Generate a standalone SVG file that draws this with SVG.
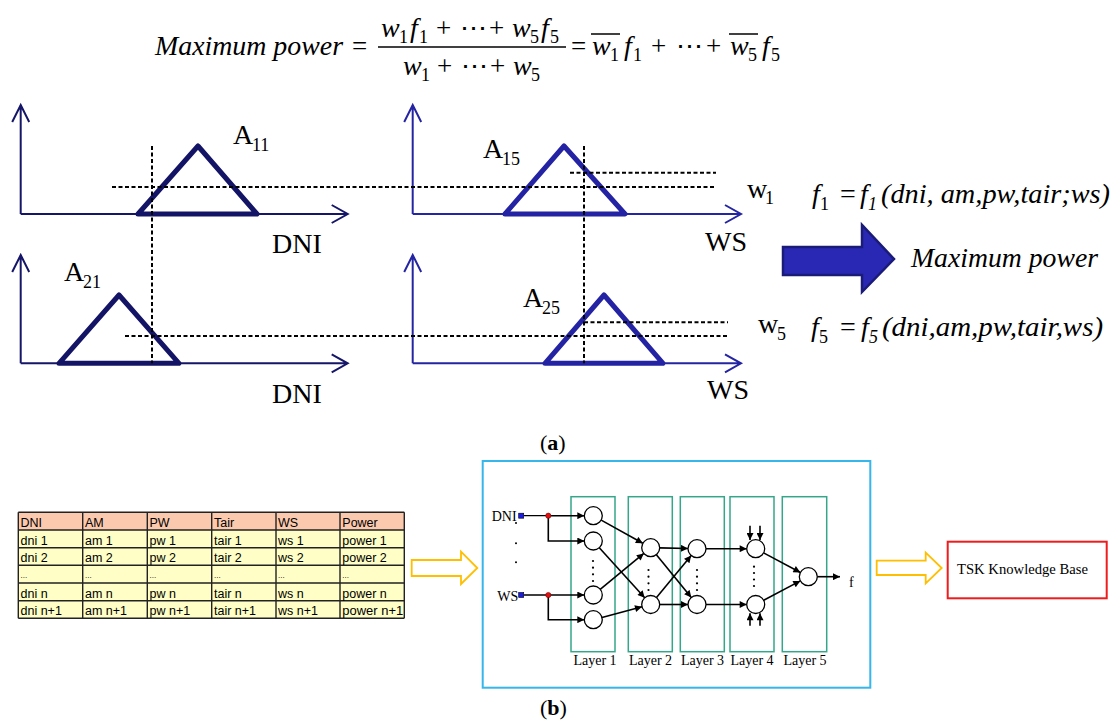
<svg xmlns="http://www.w3.org/2000/svg" width="1118" height="722" viewBox="0 0 1118 722">
<style>
.fm{font-family:"Liberation Serif",serif;font-style:italic;font-size:28px;fill:#000}
.fr{font-family:"Liberation Serif",serif;font-size:27px;fill:#000}
.fs{font-family:"Liberation Serif",serif;font-size:18px;fill:#000}
.tm{font-family:"Liberation Serif",serif;font-size:28px;fill:#000}
.ts{font-family:"Liberation Serif",serif;font-size:18px;fill:#000}
.ti{font-family:"Liberation Serif",serif;font-style:italic;font-size:28px;fill:#000}
.tis{font-family:"Liberation Serif",serif;font-style:italic;font-size:18px;fill:#000}
.axL{stroke:#161668;stroke-width:2;fill:none}
.axR{stroke:#2525a3;stroke-width:2;fill:none}
.triL{stroke:#141466;stroke-width:5;fill:none;stroke-linejoin:round}
.triR{stroke:#2323a3;stroke-width:5;fill:none;stroke-linejoin:round}
.dash{stroke:#000;stroke-width:2;stroke-dasharray:4 2.5;fill:none}
.cap{font-family:"Liberation Serif",serif;font-size:22px;fill:#000}
.tb{font-family:"Liberation Sans",sans-serif;font-size:12.5px;fill:#000}
.grid{stroke:#222;stroke-width:1.4;fill:none}
.lay{stroke:#35a689;stroke-width:1.5;fill:none}
.node{stroke:#000;stroke-width:1.3;fill:#fff}
.edge{stroke:#000;stroke-width:1.6;fill:none;marker-end:url(#ah)}
.line{stroke:#000;stroke-width:1.3;fill:none}
.nt{font-family:"Liberation Serif",serif;font-size:14px;fill:#000}
.yarr{stroke:#ffbf00;stroke-width:1.8;fill:#fff}
</style>
<defs>
<marker id="ah" viewBox="0 0 10 10" refX="10" refY="5" markerWidth="8" markerHeight="7" markerUnits="userSpaceOnUse" orient="auto">
<path d="M0,0 L10,5 L0,10 Z" fill="#000"/>
</marker>
</defs>

<g id="formula">
<text class="fm" x="155" y="55" textLength="188" lengthAdjust="spacingAndGlyphs">Maximum power</text>
<text class="fr" x="352" y="55">=</text>
<text class="fm" x="381" y="37">w</text><text class="fs" x="399" y="43">1</text>
<text class="fm" x="410" y="37">f</text><text class="fs" x="419" y="43">1</text>
<text class="fr" x="436" y="37">+</text><text class="fr" x="460" y="37">⋯</text><text class="fr" x="489" y="37">+</text>
<text class="fm" x="512" y="37">w</text><text class="fs" x="530" y="43">5</text>
<text class="fm" x="541" y="37">f</text><text class="fs" x="550" y="43">5</text>
<line x1="378" y1="47" x2="566" y2="47" stroke="#000" stroke-width="1.5"/>
<text class="fm" x="403" y="75">w</text><text class="fs" x="421" y="81">1</text>
<text class="fr" x="437" y="75">+</text><text class="fr" x="461" y="75">⋯</text><text class="fr" x="490" y="75">+</text>
<text class="fm" x="513" y="75">w</text><text class="fs" x="531" y="81">5</text>
<text class="fr" x="571" y="55">=</text>
<text class="fm" x="592" y="55">w</text><text class="fs" x="610" y="61">1</text>
<line x1="591" y1="34" x2="620" y2="34" stroke="#000" stroke-width="1.5"/>
<text class="fm" x="624" y="55">f</text><text class="fs" x="633" y="61">1</text>
<text class="fr" x="651" y="55">+</text><text class="fr" x="676" y="55">⋯</text><text class="fr" x="706" y="55">+</text>
<text class="fm" x="730" y="55">w</text><text class="fs" x="748" y="61">5</text>
<line x1="729" y1="34" x2="758" y2="34" stroke="#000" stroke-width="1.5"/>
<text class="fm" x="762" y="55">f</text><text class="fs" x="771" y="61">5</text>
</g>

<g id="chart-a11">
<path class="axL" d="M20.7,214 V105 M12.2,122 L20.7,105 L29.2,122 M20.7,214 H347.7 M331.7,205 L347.7,214 L331.7,223"/>
<path class="triL" d="M138,214 L198,146 L257,214 Z"/>
<text class="tm" x="233" y="144" font-size="26">A</text><text class="ts" x="252" y="151">11</text>
<text class="tm" x="272" y="253">DNI</text>
</g>
<g id="chart-a15">
<path class="axR" d="M412.7,214 V105 M404.2,122 L412.7,105 L421.2,122 M412.7,214 H741 M725,205 L741,214 L725,223"/>
<path class="triR" d="M505,214 L564,146 L625,214 Z"/>
<text class="tm" x="483" y="158" font-size="26">A</text><text class="ts" x="502" y="165">15</text>
<text class="tm" x="705" y="251">WS</text>
</g>
<g id="chart-a21">
<path class="axL" d="M20.7,363.3 V255 M12.2,272 L20.7,255 L29.2,272 M20.7,363.3 H347.7 M331.7,354.3 L347.7,363.3 L331.7,372.3"/>
<path class="triL" d="M59,363.3 L119,295 L179,363.3 Z"/>
<text class="tm" x="64" y="281" font-size="26">A</text><text class="ts" x="83" y="288">21</text>
<text class="tm" x="272" y="403">DNI</text>
</g>
<g id="chart-a25">
<path class="axR" d="M412.7,363.3 V255 M404.2,272 L412.7,255 L421.2,272 M412.7,363.3 H741 M725,354.3 L741,363.3 L725,372.3"/>
<path class="triR" d="M545,363.3 L604,295 L663,363.3 Z"/>
<text class="tm" x="523" y="307" font-size="26">A</text><text class="ts" x="542" y="314">25</text>
<text class="tm" x="707" y="399">WS</text>
</g>

<g id="dashes">
<path class="dash" d="M152,146 V363.3 M584,146 V363.3 M112,187 H716 M570,172.7 H716 M125,336 H728 M584,322.3 H728"/>
</g>

<g id="rules">
<text class="tm" x="747" y="198" font-size="26">w</text><text class="ts" x="765" y="204">1</text>
<text class="ti" x="812" y="203">f</text><text class="ts" x="820" y="210">1</text>
<text class="tm" x="840" y="203">=</text>
<text class="ti" x="860" y="203">f</text><text class="tis" x="868" y="210">1</text>
<text class="ti" x="881" y="203" textLength="229" lengthAdjust="spacingAndGlyphs">(dni, am,pw,tair;ws)</text>
<text class="tm" x="758" y="333" font-size="26">w</text><text class="ts" x="777" y="340">5</text>
<text class="ti" x="811" y="336">f</text><text class="ts" x="819" y="343">5</text>
<text class="tm" x="840" y="336">=</text>
<text class="ti" x="861" y="336">f</text><text class="tis" x="869" y="343">5</text>
<text class="ti" x="882" y="336" textLength="221" lengthAdjust="spacingAndGlyphs">(dni,am,pw,tair,ws)</text>
<polygon points="783,247 862,247 862,225 894,259 862,292 862,275 783,275" fill="#2828b4" stroke="#1a1a78" stroke-width="2.5"/>
<text class="ti" x="911" y="267" textLength="187" lengthAdjust="spacingAndGlyphs">Maximum power</text>
</g>

<text class="cap" x="540" y="450">(<tspan font-weight="bold">a</tspan>)</text>

<g id="table">
<rect x="18.3" y="512.3" width="386" height="17.7" fill="#fbc9ad"/>
<rect x="18.3" y="530" width="386" height="88.3" fill="#fefec6"/>
<path class="grid" d="M18.3,512.3 H404.3 M18.3,530 H404.3 M18.3,547.7 H404.3 M18.3,565.3 H404.3 M18.3,583 H404.3 M18.3,600.7 H404.3 M18.3,618.3 H404.3 M18.3,512.3 V618.3 M82.7,512.3 V618.3 M147.3,512.3 V618.3 M211.7,512.3 V618.3 M276,512.3 V618.3 M340,512.3 V618.3 M404.3,512.3 V618.3"/>
<g class="tb">
<text x="20.5" y="527">DNI</text><text x="85" y="527">AM</text><text x="149.5" y="527">PW</text><text x="214" y="527">Tair</text><text x="278" y="527">WS</text><text x="342.3" y="527">Power</text>
<text x="20.5" y="544.7">dni 1</text><text x="85" y="544.7">am 1</text><text x="149.5" y="544.7">pw 1</text><text x="214" y="544.7">tair 1</text><text x="278" y="544.7">ws 1</text><text x="342.3" y="544.7">power 1</text>
<text x="20.5" y="562.3">dni 2</text><text x="85" y="562.3">am 2</text><text x="149.5" y="562.3">pw 2</text><text x="214" y="562.3">tair 2</text><text x="278" y="562.3">ws 2</text><text x="342.3" y="562.3">power 2</text>
<text x="20.5" y="578" font-size="8">...</text><text x="85" y="578" font-size="8">...</text><text x="149.5" y="578" font-size="8">...</text><text x="214" y="578" font-size="8">...</text><text x="278" y="578" font-size="8">...</text><text x="342.3" y="578" font-size="8">...</text>
<text x="20.5" y="597.7">dni n</text><text x="85" y="597.7">am n</text><text x="149.5" y="597.7">pw n</text><text x="214" y="597.7">tair n</text><text x="278" y="597.7">ws n</text><text x="342.3" y="597.7">power n</text>
<text x="20.5" y="615.3">dni n+1</text><text x="85" y="615.3">am n+1</text><text x="149.5" y="615.3">pw n+1</text><text x="214" y="615.3">tair n+1</text><text x="278" y="615.3">ws n+1</text><text x="342.3" y="615.3" textLength="61" lengthAdjust="spacingAndGlyphs">power n+1</text>
</g>
</g>

<g id="arrow-left">
<polygon class="yarr" points="411.7,560 461,560 461,551.7 477.3,568 461,584 461,576 411.7,576"/>
</g>

<g id="anfis">
<rect x="482.7" y="461" width="387.6" height="226.7" fill="none" stroke="#36b6ea" stroke-width="2"/>
<rect class="lay" x="571" y="496.7" width="44" height="155"/>
<rect class="lay" x="628.3" y="496.7" width="44" height="155"/>
<rect class="lay" x="680.3" y="496.7" width="44" height="155"/>
<rect class="lay" x="730" y="496.7" width="44" height="155"/>
<rect class="lay" x="782.3" y="496.7" width="44.4" height="155"/>
<g class="nt" text-anchor="middle">
<text x="595" y="665">Layer 1</text><text x="650.5" y="665">Layer 2</text><text x="702.5" y="665">Layer 3</text><text x="752" y="665">Layer 4</text><text x="805" y="665">Layer 5</text>
</g>
<text class="nt" x="491.7" y="521">DNI</text>
<text class="nt" x="497.3" y="601">WS</text>
<text class="nt" x="849" y="587" font-size="16">f</text>
</g>

<g id="connectors">
<path class="line" d="M523.7,515.7 H548.3 M523.7,595 H548.3"/>
<path class="edge" d="M548.3,515.7 H584.3"/>
<path class="edge" d="M548.3,515.7 V541 H584.3"/>
<path class="edge" d="M548.3,595 H584.3"/>
<path class="edge" d="M548.3,595 V619.7 H584.3"/>
<path class="edge" d="M601.2,520.1 L642.8,543.3"/>
<path class="edge" d="M599.3,547.7 L644.7,597.8"/>
<path class="edge" d="M600.2,589.3 L643.8,553.4"/>
<path class="edge" d="M602,617.4 L642,606.8"/>
<path class="edge" d="M659.7,547.9 L688,548.5"/>
<path class="edge" d="M656.4,554.7 L691.3,597.5"/>
<path class="edge" d="M656.5,597.6 L691.2,555.6"/>
<path class="edge" d="M659.7,604.5 L688,604.5"/>
<path class="edge" d="M706,548.7 L746.7,548.7"/>
<path class="edge" d="M706,604.5 L746.7,604.5"/>
<path class="edge" d="M763.6,552.9 L800.4,572.5"/>
<path class="edge" d="M763.7,600.3 L800.3,580.9"/>
<path class="edge" d="M817.3,576.7 L840,576.7"/>
<path class="edge" d="M750,525.7 V540"/>
<path class="edge" d="M760,525.7 V540"/>
<path class="edge" d="M750,625.7 V613.3"/>
<path class="edge" d="M760,625.7 V613.3"/>
</g>

<g id="nodes">
<rect x="518.7" y="513.2" width="5" height="5" fill="#1a1aee" stroke="#000" stroke-width="0.6"/>
<rect x="518.7" y="592.5" width="5" height="5" fill="#1a1aee" stroke="#000" stroke-width="0.6"/>
<circle cx="548.3" cy="515.7" r="2.6" fill="#e01010" stroke="#700" stroke-width="0.6"/>
<circle cx="548.3" cy="595" r="2.6" fill="#e01010" stroke="#700" stroke-width="0.6"/>
<circle class="node" cx="593.3" cy="515.7" r="9"/>
<circle class="node" cx="593.3" cy="541" r="9"/>
<circle class="node" cx="593.3" cy="595" r="9"/>
<circle class="node" cx="593.3" cy="619.7" r="9"/>
<circle class="node" cx="650.7" cy="547.7" r="9"/>
<circle class="node" cx="650.7" cy="604.5" r="9"/>
<circle class="node" cx="697" cy="548.7" r="9"/>
<circle class="node" cx="697" cy="604.5" r="9"/>
<circle class="node" cx="755.7" cy="548.7" r="9"/>
<circle class="node" cx="755.7" cy="604.5" r="9"/>
<circle class="node" cx="808.3" cy="576.7" r="9"/>
<g fill="#000">
<circle cx="516" cy="523" r="1"/><circle cx="516" cy="543.3" r="1"/><circle cx="516" cy="562.3" r="1"/>
<circle cx="593" cy="561" r="1.1"/><circle cx="593" cy="567.7" r="1.1"/><circle cx="593" cy="574.3" r="1.1"/><circle cx="593" cy="581" r="1.1"/>
<circle cx="648.5" cy="570" r="1.1"/><circle cx="648.5" cy="576.7" r="1.1"/><circle cx="648.5" cy="583.3" r="1.1"/><circle cx="648.5" cy="590" r="1.1"/>
<circle cx="697" cy="570" r="1.1"/><circle cx="697" cy="576.7" r="1.1"/><circle cx="697" cy="583.3" r="1.1"/><circle cx="697" cy="590" r="1.1"/>
<circle cx="754" cy="566.7" r="1.1"/><circle cx="754" cy="573" r="1.1"/><circle cx="754" cy="579.5" r="1.1"/><circle cx="754" cy="586" r="1.1"/>
</g>
</g>

<g id="arrow-right">
<polygon class="yarr" points="876.7,560.7 925.7,560.7 925.7,552.7 941.7,568 925.7,583.3 925.7,575 876.7,575"/>
</g>

<g id="tsk">
<rect x="947.7" y="541.7" width="159" height="56.6" fill="#fff" stroke="#ee1c1c" stroke-width="2"/>
<text class="nt" x="957" y="573.5" font-size="16" textLength="131" lengthAdjust="spacingAndGlyphs">TSK Knowledge Base</text>
</g>

<text class="cap" x="540" y="715">(<tspan font-weight="bold">b</tspan>)</text>
</svg>
